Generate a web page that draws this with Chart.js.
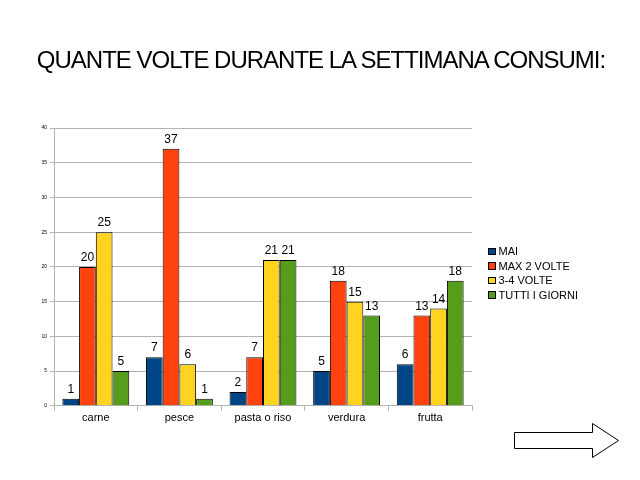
<!DOCTYPE html>
<html>
<head>
<meta charset="utf-8">
<script src="https://cdn.jsdelivr.net/npm/chart.js@4/dist/chart.umd.min.js"></script>
<style>
  html, body { margin: 0; padding: 0; background: #fff; }
  #wrap { position: relative; width: 640px; height: 480px; }
  #arrow { position: absolute; left: 0; top: 0; }
  #title { position: absolute; left: 1px; top: 45px; width: 640px; text-align: center; letter-spacing: -1px;
           font: 24px "Liberation Sans", Arial, sans-serif; color: #000; line-height: 30px; white-space: nowrap; }
  #legend { position: absolute; left: 488px; top: 244px; font: 11px "Liberation Sans", Arial, sans-serif; color: #000; }
  #legend .item { height: 14.6px; display: flex; align-items: center; white-space: nowrap; }
  #legend .box { border: 1px solid #000; margin-right: 3px; box-sizing: content-box; width: 5.5px; height: 5.5px; }
</style>
</head>
<body>
<div id="wrap">
  <canvas id="chart" width="640" height="480"></canvas>
  <div id="title">QUANTE VOLTE DURANTE LA SETTIMANA CONSUMI:</div>
  <div id="legend"></div>
  <svg id="arrow" width="640" height="480">
    <polygon points="514.5,432.5 592.5,432.5 592.5,423.5 618.5,440.5 592.5,457.5 592.5,448.5 514.5,448.5"
             fill="#fff" stroke="#000" stroke-width="1"/>
  </svg>
</div>
<script>
// categories and series
const categories = ['carne', 'pesce', 'pasta o riso', 'verdura', 'frutta'];
const seriesNames = ['MAI', 'MAX 2 VOLTE', '3-4 VOLTE', 'TUTTI I GIORNI'];
const mai = [1, 7, 2, 5, 6];
const max2 = [20, 37, 7, 18, 13];
const volte34 = [25, 6, 21, 15, 14];
const tutti = [5, 1, 21, 13, 18];
const colors = ['#004586', '#ff420e', '#ffd320', '#579d1c'];

const font = '"Liberation Sans", Arial, sans-serif';

// value labels above each bar
const valueLabels = {
    id: 'valueLabels',
    afterDatasetsDraw(chart) {
        const ctx = chart.ctx;
        ctx.save();
        ctx.font = '12px ' + font;
        ctx.fillStyle = '#000';
        ctx.textAlign = 'center';
        ctx.textBaseline = 'bottom';
        chart.data.datasets.forEach((ds, i) => {
            chart.getDatasetMeta(i).data.forEach((bar, j) => {
                ctx.fillText(ds.data[j], bar.x, bar.y - 3);
            });
        });
        ctx.restore();
    }
};

const allSeries = [mai, max2, volte34, tutti];

const chart = new Chart(document.getElementById('chart'), {
    type: 'bar',
    data: {
        labels: categories,
        datasets: allSeries.map((d, i) => ({
            label: seriesNames[i],
            data: d,
            backgroundColor: colors[i],
            borderColor: '#000',
            borderWidth: 1
        }))
    },
    options: {
        responsive: false,
        animation: false,
        layout: { padding: { left: 30, right: 168, top: 128, bottom: 54 } },
        datasets: { bar: { categoryPercentage: 0.8, barPercentage: 1 } },
        plugins: {
            title: { display: false },
            legend: { display: false },
            tooltip: { enabled: false }
        },
        scales: {
            x: {
                grid: { display: true, offset: true, drawOnChartArea: false, tickLength: 5, color: '#b3b3b3' },
                border: { color: '#b3b3b3' },
                ticks: { color: '#000', font: { family: font, size: 11 }, padding: 1 }
            },
            y: {
                min: 0,
                max: 40,
                ticks: { stepSize: 5, color: '#000', font: { family: font, size: 5 }, padding: 3 },
                grid: { color: '#b3b3b3', tickLength: 4 },
                border: { color: '#b3b3b3' },
                afterFit(scale) { scale.width = 24; }
            }
        }
    },
    plugins: [valueLabels]
});

// legend built from the datasets
const legendEl = document.getElementById('legend');
chart.data.datasets.forEach(ds => {
    const item = document.createElement('div');
    item.className = 'item';
    item.innerHTML = `<span class="box" style="background:${ds.backgroundColor}"></span>${ds.label}`;
    legendEl.appendChild(item);
});
</script>
</body>
</html>
